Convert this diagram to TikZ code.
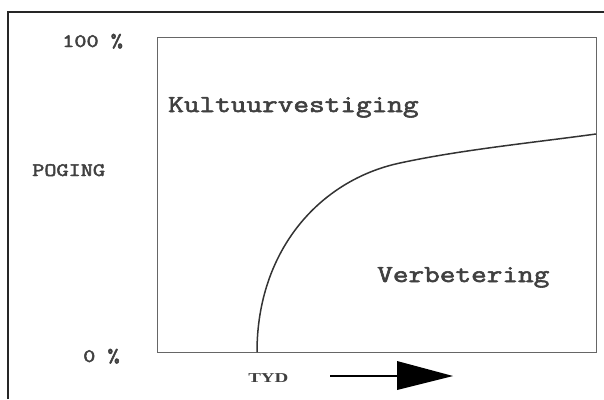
\documentclass[tikz,border=0pt]{standalone}
\usepackage{fontspec}
\newfontfamily\tydfont{Liberation Serif}
\newfontfamily\courfont[FakeBold=2.2]{Latin Modern Mono}
\begin{document}
\begin{tikzpicture}[x=1pt,y=-1pt,
  lbl/.style={inner sep=0pt,anchor=base west,text=black!75},
  big/.style={lbl,font=\courfont\fontsize{24.5}{30}\selectfont,xscale=1.24},
  small/.style={lbl,font=\courfont\fontsize{19}{24}\selectfont,xscale=1.24},
  frameline/.style={draw=black!85,line width=2pt},
  boxline/.style={draw=black!60,line width=1pt},
  curveline/.style={draw=black!80,line width=1.5pt}]
\useasboundingbox (0,0) rectangle (604,399);
% outer frame (left and top edges)
\coordinate (fb) at (8,399);
\coordinate (ftl) at (8,12);
\coordinate (ftr) at (604,12);
\draw[frameline] (fb) -- (ftl) -- (ftr);
% inner plot box
\coordinate (bl) at (157,352);
\coordinate (tr) at (596,37);
\draw[boxline] (bl) rectangle (tr);
% curve
\coordinate (c0) at (257,352);
\coordinate (c1) at (400,163);
\coordinate (c2) at (596,134);
\draw[curveline] (c0) .. controls (257,250) and (320,180) .. (c1)
  .. controls (460,150) and (530,143) .. (c2);
% labels
\node[small] (p100) at (62,47) {100 \%};
\node[small] (poging) at (32,176) {POGING};
\node[small] (p0) at (83,362) {0 \%};
\node[big] (kult) at (168,112) {Kultuurvestiging};
\node[big] (verb) at (377,282) {Verbetering};
\node[lbl,font=\tydfont\bfseries\fontsize{13.6}{16}\selectfont,xscale=1.4] (tyd) at (248,382) {TYD};
% time arrow
\coordinate (a0) at (330,376);
\coordinate (a1) at (397,376);
\coordinate (atip) at (453,376);
\draw[black,line width=2pt] (a0) -- (a1);
\fill[black] (397,361) -- (atip) -- (397,390) -- cycle;
\end{tikzpicture}
\end{document}
